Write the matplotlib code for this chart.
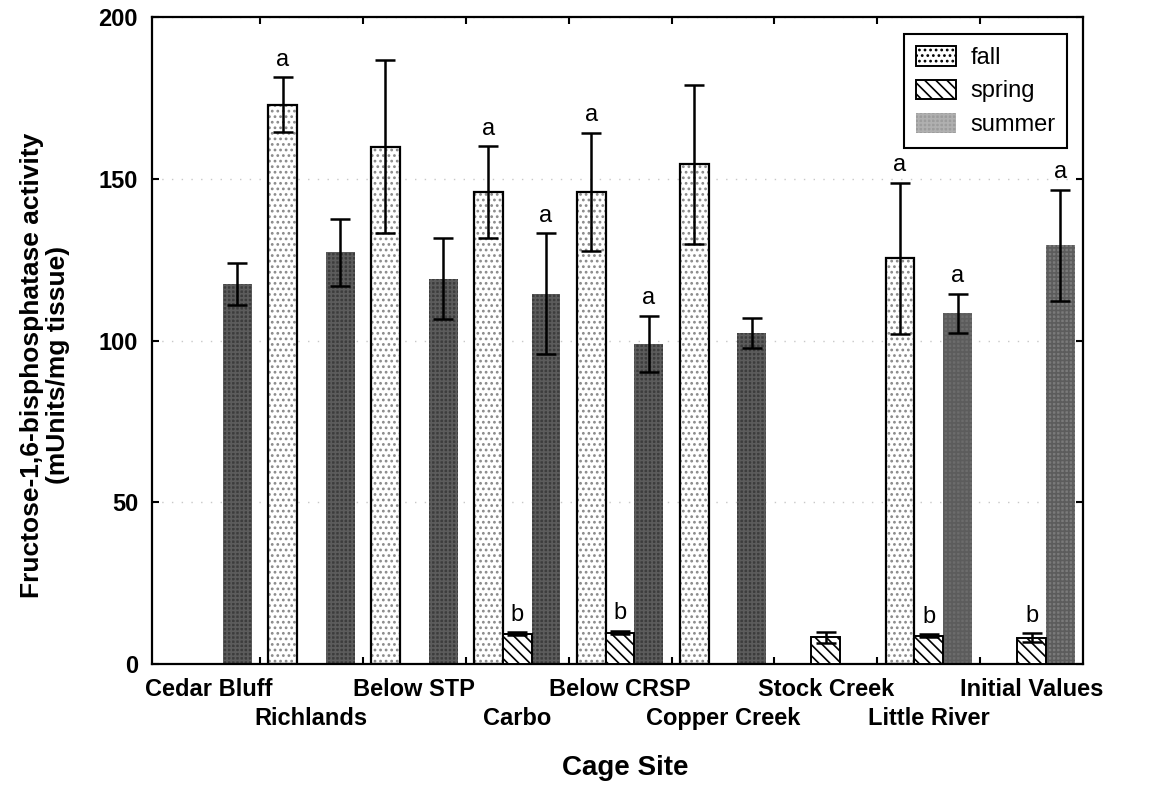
import numpy as np
import matplotlib
matplotlib.use("Agg")
import matplotlib.pyplot as plt
from matplotlib.patches import Patch

plt.rcParams['font.family'] = ['Liberation Sans', 'DejaVu Sans']
plt.rcParams['hatch.linewidth'] = 1.2

# Cage sites and seasonal means / errors (nan = not sampled)
sites = ["Cedar Bluff", "Richlands", "Below STP", "Carbo", "Below CRSP",
         "Copper Creek", "Stock Creek", "Little River", "Initial Values"]
nan = np.nan
fall = [nan, 173, 160, 146, 146, 154.5, nan, 125.5, nan]
fall_err = [nan, 8.5, 26.7, 14.2, 18.3, 24.6, nan, 23.4, nan]
spring = [nan, nan, nan, 9.4, 9.8, nan, 8.3, 8.8, 8.2]
spring_err = [nan, nan, nan, 0.5, 0.5, nan, 1.6, 0.4, 1.4]
summer = [117.5, 127.3, 119.2, 114.5, 99, 102.5, nan, 108.5, 129.5]
summer_err = [6.5, 10.5, 12.6, 18.7, 8.7, 4.6, nan, 6, 17.2]

# significance letters above the error bars
fall_sig = ["", "a", "", "a", "a", "", "", "a", ""]
spring_sig = ["", "", "", "b", "b", "", "", "b", "b"]
summer_sig = ["", "", "", "a", "a", "", "", "a", "a"]

# summer bars were printed darker for the first sites
summer_shade = ["#3c3c3c"] * 7 + ["#6c6c6c", "#7a7a7a"]

x = np.arange(len(sites))
w = 0.28

fig = plt.figure(figsize=(11.51, 7.87), dpi=100)
ax = fig.add_axes([0.132, 0.156, 0.809, 0.822])

ekw = dict(ecolor="black", elinewidth=1.8, capsize=7, capthick=1.8, fmt="none", zorder=5)

# fall: white with grey dots, black outline
ax.bar(x - w, fall, w, color="white", edgecolor="#8a8a8a", hatch="...", linewidth=0, zorder=2)
ax.bar(x - w, fall, w, fill=False, edgecolor="black", linewidth=1.6, zorder=3)
ax.errorbar(x - w, fall, yerr=fall_err, **ekw)

# spring: diagonal hatch
ax.bar(x, spring, w, color="white", edgecolor="black", hatch="\\\\\\", linewidth=1.4, zorder=3)
ax.errorbar(x, spring, yerr=spring_err, **ekw)

# summer: dark grey texture, no outline
ax.bar(x + w, summer, w, color=summer_shade, edgecolor="#5c5c5c", hatch="++++", linewidth=0, zorder=2)
ax.errorbar(x + w, summer, yerr=summer_err, **ekw)

for xs, vals, errs, sig in [(x - w, fall, fall_err, fall_sig),
                            (x, spring, spring_err, spring_sig),
                            (x + w, summer, summer_err, summer_sig)]:
    for xi, v, e, s in zip(xs, vals, errs, sig):
        if s:
            ax.text(xi, v + e + 2, s, ha="center", va="bottom", fontsize=17, zorder=6)

ax.set_xlim(-0.55, len(sites) - 0.5)
ax.set_ylim(0, 200)
ax.set_yticks([0, 50, 100, 150, 200])
ax.yaxis.grid(True, color="#c8c8c8", linestyle=(0, (1, 6)), linewidth=1)
ax.set_axisbelow(True)

# group boundaries get the ticks, centres carry the staggered labels
ax.set_xticks(x[:-1] + 0.5)
ax.set_xticklabels([])
xtr = ax.get_xaxis_transform()
for i, s in enumerate(sites):
    ax.text(x[i], -0.0386 if i % 2 == 0 else -0.0835, s, transform=xtr,
            ha="center", va="center", fontsize=17, fontweight="bold")
ax.tick_params(axis="both", which="major", direction="in", length=5, width=1.5,
               top=True, right=True)
ax.tick_params(axis="y", labelsize=17, pad=10)
for lab in ax.get_yticklabels():
    lab.set_fontweight("bold")

for sp in ax.spines.values():
    sp.set_linewidth(1.6)

fig.text(45 / 1151, 1 - 365 / 787, "Fructose-1,6-bisphosphatase activity\n(mUnits/mg tissue)",
         rotation=90, ha="center", va="center", multialignment="center",
         fontsize=19, fontweight="bold", linespacing=1.15)
fig.text(625 / 1151, 1 - 768 / 787, "Cage Site", ha="center", va="center",
         fontsize=20, fontweight="bold")

handles = [Patch(facecolor="white", edgecolor="black", hatch="...", linewidth=1.4, label="fall"),
           Patch(facecolor="white", edgecolor="black", hatch="\\\\\\", linewidth=1.4, label="spring"),
           Patch(facecolor="#9c9c9c", edgecolor="#b0b0b0", hatch="++++", linewidth=0, label="summer")]
leg = ax.legend(handles=handles, loc="upper right", bbox_to_anchor=(0.983, 0.974),
                borderaxespad=0, fontsize=17, fancybox=False, edgecolor="black", framealpha=1,
                handlelength=1.7, handleheight=0.9, handletextpad=0.6,
                borderpad=0.5, labelspacing=0.45)
leg.get_frame().set_linewidth(1.5)

fig.savefig("out.png", dpi=100)
